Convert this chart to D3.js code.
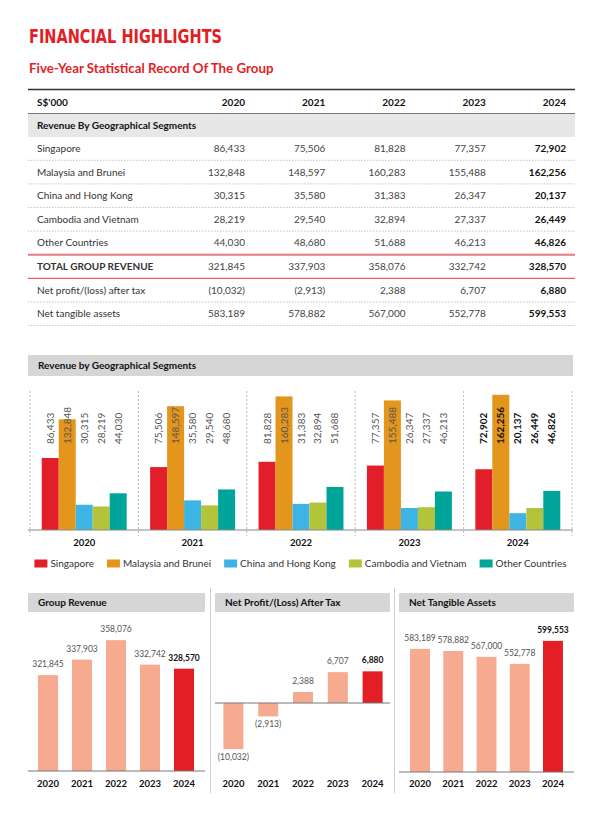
<!DOCTYPE html>
<html>
<head>
<meta charset="utf-8">
<script src="https://cdn.jsdelivr.net/npm/d3@7"></script>
<style>
  body { margin: 0; background: #fff; }
  svg { display: block; font-family: Lato, "Open Sans", sans-serif; }
</style>
</head>
<body>
<script>
// DATA
const years = ["2020", "2021", "2022", "2023", "2024"];
const segments = ["Singapore", "Malaysia and Brunei", "China and Hong Kong", "Cambodia and Vietnam", "Other Countries"];
const singapore = [86433, 75506, 81828, 77357, 72902];
const malaysiaBrunei = [132848, 148597, 160283, 155488, 162256];
const chinaHongKong = [30315, 35580, 31383, 26347, 20137];
const cambodiaVietnam = [28219, 29540, 32894, 27337, 26449];
const otherCountries = [44030, 48680, 51688, 46213, 46826];
const groupRevenue = [321845, 337903, 358076, 332742, 328570];
const netProfit = [-10032, -2913, 2388, 6707, 6880];
const netTangibleAssets = [583189, 578882, 567000, 552778, 599553];
const segmentColors = ["#e31e2b", "#e3951c", "#3db4e4", "#b3c43b", "#00a599"];

const segmentValues = [singapore, malaysiaBrunei, chinaHongKong, cambodiaVietnam, otherCountries];

const W = 603, H = 832;
const red = "#e31e24", salmon = "#f6aa8f", band = "#d6d6d6", ink = "#333";
const fmt = d3.format(",");
const fmtNeg = v => v < 0 ? "(" + fmt(-v) + ")" : fmt(v);

const svg = d3.select("body").append("svg")
    .attr("width", W)
    .attr("height", H);

// 1: TITLES
svg.append("text")
    .attr("x", 29).attr("y", 43)
    .attr("fill", red)
    .style("font-family", "'DejaVu Sans Condensed', Roboto, sans-serif")
    .style("font-weight", 700)
    .style("font-size", "19px")
    .attr("textLength", 193)
    .attr("lengthAdjust", "spacingAndGlyphs")
    .text("FINANCIAL HIGHLIGHTS");

svg.append("text")
    .attr("x", 29).attr("y", 73)
    .attr("fill", red)
    .style("font-weight", 700)
    .style("font-size", "13.3px")
    .text("Five-Year Statistical Record Of The Group");

// 2: TABLE
const colX = d3.scalePoint().domain(years).range([245, 566]);
const rowY = i => 148.5 + i * 23.6;

svg.append("line").attr("x1", 28).attr("x2", 575).attr("y1", 89.5).attr("y2", 89.5)
    .attr("stroke", ink).attr("stroke-width", 1.5);

svg.append("text").attr("x", 37).attr("y", 105.5)
    .style("font-size", "10px").style("font-weight", 700).attr("fill", "#111")
    .text("S$'000");

svg.selectAll(".yearHead").data(years).enter().append("text")
    .attr("x", d => colX(d)).attr("y", 105.5)
    .attr("text-anchor", "end")
    .style("font-size", "10px").style("font-weight", 700).attr("fill", "#111")
    .text(d => d);

svg.append("rect").attr("x", 28).attr("y", 114).attr("width", 547).attr("height", 23)
    .attr("fill", "#e7e7e7");
svg.append("line").attr("x1", 28).attr("x2", 575).attr("y1", 113.5).attr("y2", 113.5)
    .attr("stroke", "#777").attr("stroke-width", 1);
svg.append("text").attr("x", 37).attr("y", 129)
    .style("font-size", "10px").style("font-weight", 700).attr("fill", "#111")
    .text("Revenue By Geographical Segments");

const rows = segments.map((s, i) => ({ label: s, values: segmentValues[i] }))
    .concat([
        { label: "TOTAL GROUP REVENUE", values: groupRevenue, bold: true },
        { label: "Net profit/(loss) after tax", values: netProfit },
        { label: "Net tangible assets", values: netTangibleAssets }
    ]);

rows.forEach((r, i) => {
    const y = rowY(i);
    svg.append("text").attr("x", 37).attr("y", y + 3.5)
        .style("font-size", "10px")
        .style("font-weight", r.bold ? 700 : 400)
        .attr("fill", ink)
        .text(r.label);
    svg.selectAll(null).data(r.values).enter().append("text")
        .attr("x", (d, j) => colX(years[j]))
        .attr("y", y + 3.5)
        .attr("text-anchor", "end")
        .style("font-size", "10px")
        .style("font-weight", (d, j) => j === 4 ? 700 : 400)
        .attr("fill", (d, j) => j === 4 ? "#111" : "#444")
        .text(d => fmtNeg(d));

    const ly = y + 11.8;
    const line = svg.append("line").attr("x1", 28).attr("x2", 575).attr("y1", ly).attr("y2", ly);
    if (i === 4) {
        line.attr("stroke", "#e57a7e").attr("stroke-width", 2);
    } else if (i === 5) {
        line.attr("stroke", "#e2353c").attr("stroke-width", 1);
    } else {
        line.attr("stroke", "#b5b5b5").attr("stroke-width", 0.8).attr("stroke-dasharray", "1.5,1.5");
    }
});

// 3: GROUPED BAR CHART
svg.append("rect").attr("x", 28).attr("y", 355).attr("width", 545).attr("height", 21).attr("fill", band);
svg.append("text").attr("x", 38).attr("y", 369)
    .style("font-size", "10px").style("font-weight", 700).attr("fill", "#111")
    .text("Revenue by Geographical Segments");

const x0 = d3.scaleBand().domain(years).range([30, 572]).padding(0);
const x1 = d3.scaleBand().domain(segments).range([0, x0.bandwidth()]).paddingInner(0).paddingOuter(0.69);
const yG = d3.scaleLinear().domain([0, 180000]).range([530, 380]);

// group separators
const seps = years.map(d => x0(d)).concat([x0.range()[1]]);
svg.selectAll(".sep").data(seps).enter().append("line")
    .attr("x1", d => d).attr("x2", d => d)
    .attr("y1", 391).attr("y2", 536)
    .attr("stroke", "#aaa").attr("stroke-width", 0.8).attr("stroke-dasharray", "2,2");

const groups = svg.selectAll(".grp").data(years).enter().append("g")
    .attr("transform", d => `translate(${x0(d)},0)`);

groups.selectAll("rect")
    .data((d, j) => segments.map((s, i) => ({ s, i, j, v: segmentValues[i][j] })))
    .enter().append("rect")
    .attr("x", d => x1(d.s))
    .attr("y", d => yG(d.v))
    .attr("width", x1.bandwidth())
    .attr("height", d => yG(0) - yG(d.v))
    .attr("fill", d => segmentColors[d.i]);

groups.selectAll("text")
    .data((d, j) => segments.map((s, i) => ({ s, i, j, v: segmentValues[i][j] })))
    .enter().append("text")
    .attr("transform", d => `translate(${x1(d.s) + x1.bandwidth() / 2 + 3.5},444) rotate(-90)`)
    .style("font-size", "10px")
    .style("font-weight", d => d.j === 4 ? 700 : 400)
    .attr("fill", d => d.j === 4 ? "#111" : "#555")
    .text(d => fmt(d.v));

svg.append("line").attr("x1", 28).attr("x2", 573).attr("y1", yG(0)).attr("y2", yG(0))
    .attr("stroke", "#888").attr("stroke-width", 1);

svg.selectAll(".gyear").data(years).enter().append("text")
    .attr("x", d => x0(d) + x0.bandwidth() / 2)
    .attr("y", 546)
    .attr("text-anchor", "middle")
    .style("font-size", "9.5px").style("font-weight", 700).attr("fill", "#111")
    .text(d => d);

// legend (centered flow layout)
const legend = svg.append("g");
let lx = 0;
segments.forEach((s, i) => {
    legend.append("rect").attr("x", lx).attr("y", -4).attr("width", 13).attr("height", 8)
        .attr("fill", segmentColors[i]);
    const t = legend.append("text").attr("x", lx + 16).attr("y", 3.5)
        .style("font-size", "10px").attr("fill", ink).text(s);
    lx += 16 + t.node().getComputedTextLength() + 13;
});
const legendW = lx - 13;
legend.attr("transform", `translate(${300.5 - legendW / 2},563.5)`);

// 4: SMALL BAR CHARTS
const panels = [
    { title: "Group Revenue", x0: 28, x1: 205, values: groupRevenue,
      domain: [222600, 380000], range: [771, 619], xr: [31, 201], pi: 0.41 },
    { title: "Net Profit/(Loss) After Tax", x0: 215, x1: 390, values: netProfit,
      domain: [-12000, 10000], range: [758.2, 657], xr: [216, 390], pi: 0.425 },
    { title: "Net Tangible Assets", x0: 399, x1: 574, values: netTangibleAssets,
      domain: [333000, 620000], range: [772, 630.8], xr: [403.4, 569.6], pi: 0.4 }
];

[210.5, 394.5].forEach(x => {
    svg.append("line").attr("x1", x).attr("x2", x).attr("y1", 588).attr("y2", 793)
        .attr("stroke", "#d0d0d0").attr("stroke-width", 1);
});

panels.forEach(p => {
    svg.append("rect").attr("x", p.x0).attr("y", 593).attr("width", p.x1 - p.x0).attr("height", 19)
        .attr("fill", band);
    svg.append("text").attr("x", p.x0 + 10).attr("y", 606)
        .style("font-size", "10px").style("font-weight", 700).attr("fill", "#111")
        .text(p.title);

    const x = d3.scaleBand().domain(years).range(p.xr).paddingInner(p.pi).paddingOuter(p.pi / 2);
    const y = d3.scaleLinear().domain(p.domain).range(p.range);
    const baseV = p.domain[0] > 0 ? p.domain[0] : 0;
    const data = years.map((yr, i) => ({ yr, v: p.values[i], last: i === 4 }));

    svg.selectAll(null).data(data).enter().append("rect")
        .attr("x", d => x(d.yr))
        .attr("width", x.bandwidth())
        .attr("y", d => y(Math.max(d.v, baseV)))
        .attr("height", d => Math.abs(y(d.v) - y(baseV)))
        .attr("fill", d => d.last ? red : salmon);

    svg.selectAll(null).data(data).enter().append("text")
        .attr("x", d => x(d.yr) + x.bandwidth() / 2)
        .attr("y", d => d.v >= 0 ? y(d.v) - 8 : y(d.v) + 11)
        .attr("text-anchor", "middle")
        .style("font-size", "8.5px")
        .style("font-weight", d => d.last ? 700 : 400)
        .attr("fill", d => d.last ? "#111" : "#555")
        .text(d => fmtNeg(d.v));

    svg.append("line").attr("x1", p.x0).attr("x2", p.x1)
        .attr("y1", y(baseV)).attr("y2", y(baseV))
        .attr("stroke", "#777").attr("stroke-width", 1);

    svg.selectAll(null).data(years).enter().append("text")
        .attr("x", d => x(d) + x.bandwidth() / 2)
        .attr("y", 787)
        .attr("text-anchor", "middle")
        .style("font-size", "9.5px").style("font-weight", 700).attr("fill", "#111")
        .text(d => d);
});
</script>
</body>
</html>
